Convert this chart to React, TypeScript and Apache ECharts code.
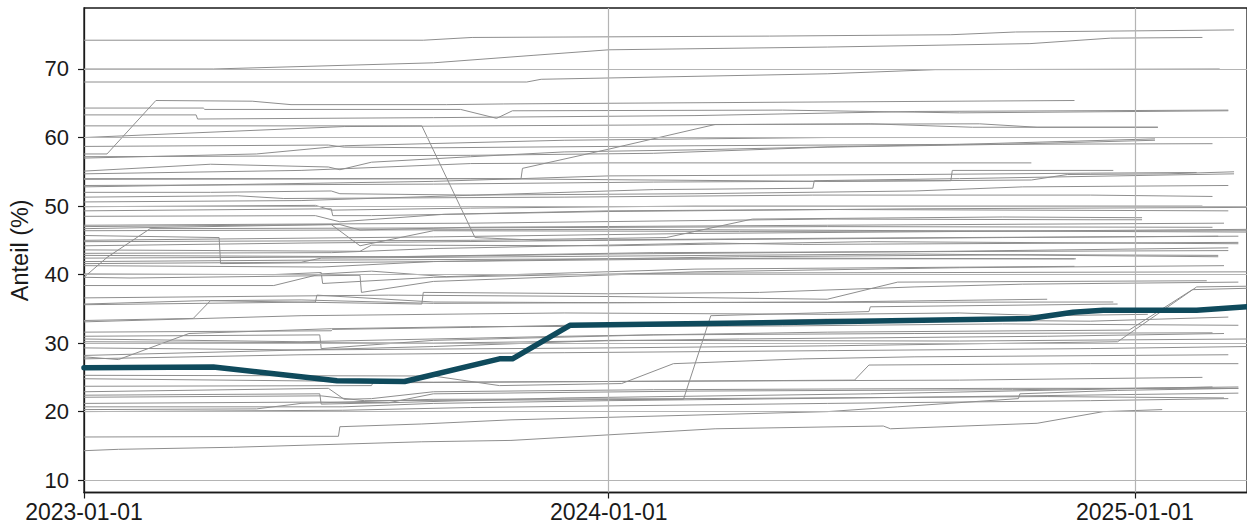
import React, { useEffect, useRef } from "react";
import * as echarts from "echarts";

type Pt = [string, number];

// Y tick labels and x tick labels
const yTicks: number[] = [10, 20, 30, 40, 50, 60, 70];
const xTicks: string[] = ["2023-01-01", "2024-01-01", "2025-01-01"];

// Highlighted series
const mainLine: Pt[] = [
  ["2023-01-01", 26.4], ["2023-04-01", 26.5], ["2023-06-26", 24.5], ["2023-08-12", 24.4],
  ["2023-10-17", 27.7], ["2023-10-26", 27.7], ["2023-12-05", 32.6], ["2024-06-01", 33.1],
  ["2024-10-20", 33.6], ["2024-11-19", 34.5], ["2024-12-10", 34.8], ["2025-02-13", 34.8],
  ["2025-03-20", 35.3],
];

// Grey lines above 56
const linesTop: Pt[][] = [
  [["2023-01-01", 74.2], ["2023-08-25", 74.2], ["2023-09-28", 74.6], ["2024-04-22", 74.8], ["2024-08-26", 75.0], ["2024-10-10", 75.4], ["2025-03-11", 75.7]],
  [["2023-01-01", 70.0], ["2023-04-01", 70.0], ["2023-09-01", 70.9], ["2023-11-10", 72.0], ["2024-01-01", 72.8], ["2024-06-01", 73.2], ["2024-10-20", 73.7], ["2024-12-15", 74.5], ["2025-02-17", 74.6]],
  [["2023-01-01", 68.1], ["2023-11-05", 68.1], ["2023-11-15", 68.5], ["2024-06-01", 69.3], ["2024-08-15", 69.9], ["2025-03-01", 70.0]],
  [["2023-01-01", 57.6], ["2023-01-17", 57.6], ["2023-02-20", 65.4], ["2023-04-28", 65.3], ["2023-05-25", 64.8], ["2023-09-10", 64.8], ["2023-10-20", 64.9], ["2024-01-01", 65.0], ["2024-11-20", 65.4]],
  [["2023-01-01", 64.3], ["2023-03-25", 64.3], ["2023-03-26", 64.1], ["2023-09-20", 64.1], ["2023-10-15", 62.8], ["2023-10-26", 63.9], ["2024-05-01", 64.0], ["2024-09-01", 63.6], ["2025-03-07", 63.9]],
  [["2023-01-01", 63.3], ["2023-03-20", 63.3], ["2023-03-21", 62.7], ["2023-09-01", 62.9], ["2024-03-01", 63.2], ["2024-08-01", 63.8], ["2025-03-07", 64.0]],
  [["2023-01-01", 61.7], ["2023-08-24", 61.7], ["2023-09-30", 45.4], ["2023-11-15", 45.0], ["2024-06-01", 45.3], ["2025-02-28", 45.6]],
  [["2023-01-01", 60.0], ["2023-07-01", 61.6], ["2024-01-01", 61.8], ["2024-07-01", 62.0], ["2024-09-10", 61.5], ["2025-01-17", 61.5]],
  [["2023-01-01", 58.7], ["2023-06-20", 58.9], ["2023-07-01", 58.6], ["2023-09-01", 58.5], ["2024-03-01", 58.8], ["2024-09-01", 59.0], ["2025-02-24", 59.1]],
  [["2023-01-01", 57.0], ["2023-05-01", 57.6], ["2023-07-01", 58.8], ["2023-12-01", 59.6], ["2024-06-01", 60.0], ["2025-03-04", 60.0]],
  [["2023-01-01", 53.9], ["2023-11-01", 54.0], ["2023-11-02", 55.5], ["2024-01-01", 58.3], ["2024-03-15", 61.9], ["2024-09-15", 62.0], ["2024-10-25", 61.5], ["2025-01-17", 61.5]],
];

// Grey lines between 48 and 58
const linesUpper: Pt[][] = [
  [["2023-01-01", 55.1], ["2023-03-30", 56.1], ["2023-06-20", 55.7], ["2023-06-28", 55.3], ["2023-07-20", 56.4], ["2023-09-27", 57.2], ["2023-12-01", 57.9], ["2024-03-01", 58.2], ["2024-06-15", 58.7], ["2024-09-01", 59.0], ["2025-01-15", 59.8]],
  [["2023-01-01", 54.7], ["2023-06-01", 55.2], ["2023-09-27", 56.2], ["2024-01-01", 56.3], ["2024-10-21", 56.3]],
  [["2023-01-01", 57.2], ["2023-09-27", 57.4], ["2024-02-01", 57.7], ["2024-06-01", 58.6], ["2024-10-01", 59.0], ["2025-01-15", 59.6]],
  [["2023-01-01", 53.0], ["2023-09-01", 53.2], ["2024-02-01", 53.5], ["2024-08-26", 53.7], ["2024-08-27", 55.2], ["2024-12-17", 55.2]],
  [["2023-01-01", 52.0], ["2023-03-30", 52.0], ["2023-06-22", 52.2], ["2023-06-28", 51.8], ["2023-09-27", 51.6], ["2024-03-01", 51.8], ["2024-08-01", 52.2], ["2024-10-15", 52.8], ["2025-03-07", 53.0]],
  [["2023-01-01", 51.3], ["2023-04-18", 51.5], ["2023-05-20", 51.1], ["2023-12-01", 51.3], ["2024-05-22", 51.6], ["2024-12-01", 51.6], ["2025-02-24", 51.4]],
  [["2023-01-01", 50.6], ["2023-06-01", 50.8], ["2023-10-01", 51.6], ["2024-02-01", 52.4], ["2024-05-22", 52.6], ["2024-05-23", 53.7], ["2024-09-01", 54.0], ["2025-03-11", 54.7]],
  [["2023-01-01", 49.9], ["2023-06-11", 50.1], ["2023-06-22", 49.4], ["2023-09-27", 49.7], ["2024-03-01", 50.0], ["2025-02-17", 50.0]],
  [["2023-01-01", 49.3], ["2023-06-22", 49.6], ["2023-06-23", 48.6], ["2023-07-20", 48.6], ["2024-01-01", 49.2], ["2024-08-01", 49.6], ["2025-03-20", 49.8]],
  [["2023-01-01", 48.5], ["2023-06-11", 48.6], ["2023-06-28", 47.7], ["2023-09-09", 48.8], ["2024-01-01", 49.3], ["2024-06-01", 49.5], ["2025-03-07", 49.3]],
  [["2023-01-01", 52.8], ["2023-09-01", 53.6], ["2024-01-01", 54.4], ["2024-08-01", 54.6], ["2024-12-01", 54.8], ["2025-02-13", 54.9]],
  [["2023-01-01", 54.0], ["2023-09-27", 54.0], ["2024-06-01", 53.6], ["2024-10-21", 53.8], ["2024-11-15", 54.6], ["2025-01-24", 54.7], ["2025-03-11", 55.0]],
];

// Grey lines between 38 and 48
const linesMid: Pt[][] = [
  [["2023-01-01", 47.2], ["2023-09-27", 47.5], ["2024-06-01", 48.1], ["2024-12-01", 48.0], ["2025-01-06", 48.0]],
  [["2023-01-01", 47.0], ["2023-06-28", 47.3], ["2023-07-12", 46.5], ["2023-09-27", 46.9], ["2024-06-01", 47.2], ["2025-03-04", 47.5]],
  [["2023-01-01", 46.7], ["2023-06-22", 47.3], ["2023-07-12", 44.2], ["2023-09-01", 46.4], ["2024-04-01", 46.3], ["2025-03-20", 46.4]],
  [["2023-01-01", 39.6], ["2023-01-17", 42.5], ["2023-02-16", 46.7], ["2023-09-01", 46.8], ["2024-06-01", 47.0], ["2025-02-24", 46.9]],
  [["2023-01-01", 45.7], ["2023-04-05", 45.4], ["2023-04-06", 41.6], ["2023-09-01", 41.9], ["2024-05-01", 42.4], ["2024-11-20", 42.3]],
  [["2023-01-01", 45.0], ["2023-09-01", 45.5], ["2024-03-01", 46.0], ["2024-09-10", 46.3], ["2025-03-20", 46.6]],
  [["2023-01-01", 44.2], ["2023-06-01", 44.6], ["2024-01-01", 45.0], ["2024-10-01", 45.4], ["2025-03-14", 45.6]],
  [["2023-01-01", 43.1], ["2023-06-22", 43.2], ["2023-09-01", 43.8], ["2024-03-12", 44.6], ["2024-05-15", 44.4], ["2025-03-14", 44.7]],
  [["2023-01-01", 42.4], ["2023-08-10", 42.6], ["2024-01-01", 43.0], ["2024-08-26", 43.4], ["2025-03-07", 43.9]],
  [["2023-01-01", 41.9], ["2023-06-01", 42.1], ["2024-01-01", 42.3], ["2024-11-21", 42.3]],
  [["2023-01-01", 41.3], ["2023-06-15", 41.1], ["2023-09-01", 41.9], ["2024-04-01", 42.6], ["2024-10-20", 42.9], ["2025-02-28", 42.8]],
  [["2023-01-01", 40.1], ["2023-05-13", 40.0], ["2023-06-15", 40.3], ["2023-06-16", 38.7], ["2023-09-01", 39.6], ["2024-02-01", 40.2], ["2025-03-20", 40.4]],
  [["2023-01-01", 39.6], ["2023-02-02", 39.5], ["2023-07-12", 39.9], ["2023-07-13", 37.4], ["2023-09-01", 39.0], ["2024-03-01", 40.4], ["2024-09-01", 41.0], ["2025-03-04", 41.3]],
  [["2023-01-01", 38.4], ["2023-05-13", 38.4], ["2023-06-15", 40.1], ["2023-07-20", 40.5], ["2023-09-10", 39.7], ["2024-03-01", 40.8], ["2024-11-20", 41.2]],
  [["2023-01-01", 44.8], ["2023-09-27", 45.0], ["2024-02-10", 45.4], ["2024-04-10", 48.1], ["2024-10-01", 48.4], ["2025-01-06", 48.3]],
  [["2023-01-01", 43.6], ["2023-07-12", 43.4], ["2023-07-20", 44.3], ["2024-01-01", 44.2], ["2024-07-01", 44.8], ["2025-03-14", 44.5]],
  [["2023-01-01", 46.4], ["2024-01-01", 46.6], ["2025-03-20", 46.2]],
  [["2023-01-01", 42.8], ["2023-08-01", 42.6], ["2024-02-01", 43.2], ["2025-03-07", 43.5]],
  [["2023-01-01", 41.6], ["2023-06-01", 41.8], ["2023-06-15", 42.4], ["2024-08-01", 43.0], ["2025-02-28", 42.6]],
];

// Grey lines between 28 and 38
const linesLow: Pt[][] = [
  [["2023-01-01", 35.7], ["2023-03-26", 36.2], ["2023-08-24", 35.7], ["2023-08-25", 37.4], ["2023-12-31", 37.2], ["2024-04-15", 37.4], ["2024-08-01", 38.2], ["2024-10-15", 38.6], ["2025-03-14", 38.9]],
  [["2023-01-01", 35.6], ["2023-06-11", 36.0], ["2023-06-12", 37.0], ["2023-09-01", 36.0], ["2024-01-01", 35.9], ["2024-12-17", 36.0]],
  [["2023-01-01", 33.3], ["2023-03-18", 33.6], ["2023-03-30", 36.2], ["2023-06-01", 36.3], ["2023-09-01", 35.8], ["2024-06-01", 36.0], ["2024-11-01", 36.4]],
  [["2023-01-01", 33.1], ["2023-06-01", 34.0], ["2023-12-01", 34.4], ["2024-06-01", 34.2], ["2024-09-01", 34.4], ["2024-11-01", 34.0], ["2025-01-10", 34.2]],
  [["2023-01-01", 31.6], ["2023-06-22", 31.8], ["2023-06-23", 32.0], ["2023-09-27", 32.3], ["2024-03-01", 33.0], ["2024-06-01", 33.5], ["2024-12-01", 33.2], ["2025-03-07", 33.8]],
  [["2023-01-01", 31.0], ["2023-06-14", 31.2], ["2023-06-15", 29.2], ["2023-09-01", 30.4], ["2024-02-01", 31.2], ["2024-08-01", 31.4], ["2025-02-24", 31.5]],
  [["2023-01-01", 30.2], ["2023-09-01", 30.0], ["2024-04-01", 30.6], ["2024-11-01", 31.0], ["2025-03-04", 31.4]],
  [["2023-01-01", 28.0], ["2023-01-25", 27.6], ["2023-03-15", 31.4], ["2023-06-22", 32.1], ["2023-09-27", 32.4], ["2024-05-01", 32.5], ["2024-10-01", 32.8], ["2025-03-14", 32.6]],
  [["2023-01-01", 28.2], ["2023-06-01", 29.0], ["2023-09-01", 29.5], ["2024-01-01", 30.4], ["2024-09-01", 30.3], ["2025-03-20", 30.6]],
  [["2023-01-01", 29.3], ["2023-06-01", 29.0], ["2024-01-01", 29.3], ["2024-06-01", 29.6], ["2024-12-20", 30.2], ["2025-02-13", 38.2], ["2025-03-20", 38.3]],
  [["2023-01-01", 30.6], ["2023-06-01", 30.2], ["2023-12-01", 31.0], ["2024-06-01", 31.6], ["2024-12-28", 31.9], ["2025-02-10", 37.8], ["2025-03-20", 38.0]],
  [["2023-01-01", 22.1], ["2023-06-15", 22.3], ["2023-07-15", 21.6], ["2024-02-22", 21.8], ["2024-03-12", 34.0], ["2024-06-30", 34.6], ["2024-07-01", 35.3], ["2024-12-20", 35.7]],
  [["2023-01-01", 36.6], ["2023-08-01", 37.0], ["2024-01-01", 36.8], ["2024-06-01", 36.4], ["2024-07-20", 38.9], ["2025-02-20", 39.1]],
];

// Grey lines below 28
const linesBottom: Pt[][] = [
  [["2023-01-01", 25.3], ["2023-09-01", 25.2], ["2023-10-17", 23.8], ["2024-01-10", 24.1], ["2024-02-15", 27.0], ["2024-05-15", 27.7], ["2024-08-01", 28.0], ["2025-03-07", 28.3]],
  [["2023-01-01", 24.8], ["2023-09-01", 24.3], ["2024-01-01", 24.4], ["2024-06-20", 24.6], ["2024-06-30", 26.8], ["2024-12-01", 27.0], ["2025-03-14", 27.0]],
  [["2023-01-01", 23.7], ["2023-07-20", 23.8], ["2023-07-21", 24.2], ["2024-01-01", 24.4], ["2024-09-01", 24.6], ["2025-02-17", 25.0]],
  [["2023-01-01", 22.9], ["2023-06-20", 23.4], ["2023-07-01", 21.8], ["2023-07-20", 21.9], ["2023-09-01", 22.9], ["2024-02-01", 23.2], ["2024-10-01", 23.4], ["2025-03-14", 23.4]],
  [["2023-01-01", 21.2], ["2023-06-15", 21.4], ["2023-08-01", 21.3], ["2023-09-01", 22.6], ["2024-03-01", 23.0], ["2024-10-08", 23.2], ["2025-03-14", 23.6]],
  [["2023-01-01", 20.7], ["2023-06-30", 20.7], ["2023-09-01", 21.2], ["2024-01-01", 21.6], ["2024-08-01", 22.1], ["2025-03-14", 22.7]],
  [["2023-01-01", 20.0], ["2023-06-30", 20.2], ["2023-09-27", 20.6], ["2024-06-01", 21.2], ["2024-12-01", 21.6], ["2025-03-07", 21.9]],
  [["2023-01-01", 16.3], ["2023-06-27", 16.4], ["2023-06-28", 17.8], ["2023-08-24", 18.2], ["2023-10-25", 18.8], ["2024-06-01", 20.0], ["2024-07-20", 20.7], ["2024-10-12", 21.9], ["2024-10-13", 22.6], ["2024-12-20", 23.1], ["2025-03-14", 23.4]],
  [["2023-01-01", 14.3], ["2023-01-25", 14.5], ["2023-04-15", 14.8], ["2023-08-24", 15.6], ["2023-10-25", 15.8], ["2024-03-15", 17.5], ["2024-07-10", 17.9], ["2024-07-15", 17.5], ["2024-10-25", 18.3], ["2024-12-10", 20.0], ["2025-01-20", 20.3]],
  [["2023-01-01", 27.7], ["2023-06-01", 28.3], ["2023-12-01", 28.6], ["2024-06-01", 28.9], ["2024-12-01", 29.2], ["2025-03-20", 29.5]],
  [["2023-01-01", 22.4], ["2023-06-14", 22.6], ["2023-06-15", 21.1], ["2023-08-01", 21.3], ["2023-12-01", 22.0], ["2024-07-01", 22.6], ["2025-02-24", 23.6]],
  [["2023-01-01", 20.3], ["2023-05-01", 20.4], ["2023-06-01", 21.2], ["2023-09-01", 21.8], ["2024-03-01", 21.9], ["2024-11-01", 22.2], ["2025-03-04", 22.0]],
];

const X_MIN = "2023-01-01";
const X_MAX = "2025-03-20";
const Y_MIN = 8.2;
const Y_MAX = 78.9;

const ts = (s: string) => Date.parse(s);
const pad = (n: number) => (n < 10 ? "0" + n : "" + n);
const fmtDate = (v: number) => {
  const d = new Date(v);
  return `${d.getUTCFullYear()}-${pad(d.getUTCMonth() + 1)}-${pad(d.getUTCDate())}`;
};

const FONT = "'Liberation Sans', Arial, Helvetica, sans-serif";

export default function App() {
  const ref = useRef<HTMLDivElement>(null);
  useEffect(() => {
    if (!ref.current) return;
    const chart = echarts.init(ref.current, undefined, { renderer: "svg" });
    const grey = [...linesTop, ...linesUpper, ...linesMid, ...linesLow, ...linesBottom];
    const gridMarks: any[] = [
      ...yTicks.map((v) => ({ yAxis: v })),
      ...xTicks.slice(1).map((d) => ({ xAxis: ts(d) })),
    ];
    const series: any[] = [
      ...grey.map((ln, i) => ({
        type: "line",
        data: ln.map(([d, v]) => [ts(d), v]),
        showSymbol: false,
        symbol: "none",
        silent: true,
        z: 2,
        lineStyle: { color: "#8e8e8e", width: 1 },
        ...(i === 0
          ? {
              markLine: {
                silent: true,
                symbol: "none",
                label: { show: false },
                lineStyle: { color: "#b4b4b4", width: 1.2, type: "solid" },
                data: gridMarks,
                animation: false,
              },
            }
          : {}),
      })),
      {
        type: "line",
        data: mainLine.map(([d, v]) => [ts(d), v]),
        showSymbol: false,
        symbol: "none",
        silent: true,
        z: 5,
        lineStyle: { color: "#0f4a5c", width: 5.5, cap: "round", join: "round" },
      },
    ];
    chart.setOption({
      animation: false,
      backgroundColor: "#ffffff",
      grid: {
        left: 84,
        right: 0,
        top: 8,
        bottom: 34.5,
        show: true,
        borderColor: "#1a1a1a",
        borderWidth: 1.3,
        backgroundColor: "transparent",
      },
      xAxis: {
        type: "value",
        min: ts(X_MIN),
        max: ts(X_MAX),
        axisLine: { show: true, lineStyle: { color: "#1a1a1a", width: 1.3 } },
        axisTick: {
          show: true,
          inside: false,
          length: 6,
          lineStyle: { color: "#1a1a1a", width: 1.2 },
          customValues: xTicks.map(ts),
        },
        axisLabel: {
          show: true,
          customValues: xTicks.map(ts),
          formatter: (v: number) => fmtDate(v),
          fontFamily: FONT,
          fontSize: 23,
          color: "#1a1a1a",
          margin: 8,
          hideOverlap: false,
        },
        splitLine: { show: false },
      },
      yAxis: {
        type: "value",
        min: Y_MIN,
        max: Y_MAX,
        name: "Anteil (%)",
        nameLocation: "middle",
        nameGap: 52,
        nameRotate: 90,
        nameTextStyle: { fontFamily: FONT, fontSize: 23.5, color: "#1a1a1a" },
        axisLine: { show: true, lineStyle: { color: "#1a1a1a", width: 1.3 } },
        axisTick: {
          show: true,
          inside: false,
          length: 6,
          lineStyle: { color: "#1a1a1a", width: 1.2 },
          customValues: yTicks,
        },
        axisLabel: {
          show: true,
          customValues: yTicks,
          fontFamily: FONT,
          fontSize: 22,
          color: "#1a1a1a",
          margin: 15,
        },
        splitLine: { show: false },
      },
      series,
    });
    return () => chart.dispose();
  }, []);
  return (
    <div
      ref={ref}
      style={{ position: "absolute", left: 0, top: 0, width: 1247, height: 527, background: "#fff" }}
    />
  );
}
